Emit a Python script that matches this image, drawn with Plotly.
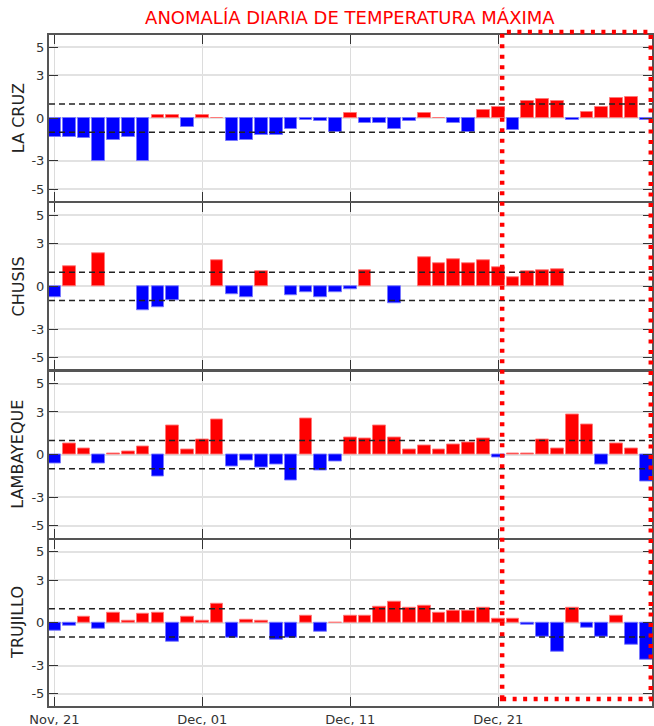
import pandas as pd
import plotly.graph_objects as go
from plotly.subplots import make_subplots

start_date = "2023-11-21"
n_days = 41
dates = list(pd.date_range(start_date, periods=n_days, freq="D"))

stations = ["LA CRUZ", "CHUSIS", "LAMBAYEQUE", "TRUJILLO"]

la_cruz = [-1.32, -1.32, -1.40, -3.02, -1.52, -1.32, -3.02, 0.23, 0.23, -0.62,
           0.23, 0.03, -1.62, -1.52, -1.18, -1.22, -0.80, -0.12, -0.23, -0.97,
           0.35, -0.35, -0.35, -0.76, -0.23, 0.35, 0.03, -0.35, -0.97, 0.55,
           0.76, -0.85, 1.18, 1.34, 1.22, -0.12, 0.42, 0.76, 1.43, 1.52, -0.12]

chusis = [-0.74, 1.41, None, 2.31, None, None, -1.71, -1.50, -0.99, None,
          None, 1.85, -0.53, -0.74, 1.04, None, -0.62, -0.44, -0.74, -0.44,
          -0.18, 1.13, None, -1.20, None, 2.03, 1.64, 1.94, 1.64, 1.85,
          1.34, 0.62, 1.04, 1.13, 1.22, None, None, None, None, None, None]

lambayeque = [-0.60, 0.76, 0.46, -0.60, 0.05, 0.25, 0.55, -1.52, 2.03, 0.35,
              1.06, 2.45, -0.81, -0.42, -0.90, -0.72, -1.80, 2.54, -1.11, -0.50,
              1.22, 1.15, 2.03, 1.22, 0.35, 0.65, 0.35, 0.74, 0.83, 1.15,
              -0.21, 0.05, 0.05, 1.06, 0.46, 2.84, 2.15, -0.72, 0.76, 0.46, -1.89]

trujillo = [-0.53, -0.23, 0.42, -0.44, 0.74, 0.14, 0.62, 0.74, -1.34, 0.42,
            0.14, 1.34, -1.04, 0.25, 0.14, -1.18, -1.04, 0.53, -0.62, 0.03,
            0.53, 0.53, 1.13, 1.52, 1.04, 1.22, 0.74, 0.83, 0.83, 1.04,
            0.32, 0.32, -0.14, -0.99, -2.00, 1.04, -0.32, -0.95, 0.53, -1.55, -2.60]

series = [la_cruz, chusis, lambayeque, trujillo]

threshold = 1.0
y_tickvals = [-5, -3, 0, 3, 5]
y_ticktext = ["-5", "-3", "0", "3", "5"]
x_tickvals = ["2023-11-21", "2023-12-01", "2023-12-11", "2023-12-21"]
x_ticktext = ["Nov, 21", "Dec, 01", "Dec, 11", "Dec, 21"]

title_text = "ANOMALÍA DIARIA DE TEMPERATURA MÁXIMA"

FONT = "DejaVu Sans"

fig = make_subplots(rows=4, cols=1, shared_xaxes=True, vertical_spacing=0.003)

bar_width_ms = 0.86 * 86400000

for i, (name, vals) in enumerate(zip(stations, series), start=1):
    colors = []
    lcolors = []
    for v in vals:
        if v is not None and v >= 0:
            colors.append("#ff0000")
            lcolors.append("rgba(255,120,120,0.9)")
        else:
            colors.append("#0000ff")
            lcolors.append("rgba(120,120,255,0.9)")
    fig.add_trace(
        go.Bar(x=dates, y=vals, marker=dict(color=colors, line=dict(color=lcolors, width=1)),
               width=bar_width_ms, showlegend=False, hoverinfo="x+y"),
        row=i, col=1,
    )
    yref = "y" if i == 1 else f"y{i}"
    ydom = "y domain" if i == 1 else f"y{i} domain"
    xdom = "x domain" if i == 1 else f"x{i} domain"
    for lvl in (threshold, -threshold):
        fig.add_shape(type="line", xref=xdom, yref=yref, x0=0, x1=1, y0=lvl, y1=lvl,
                      line=dict(color="#222222", width=1.5, dash="6px,4px"), layer="above")
    # station label as y-axis title
    fig.add_annotation(text=name, xref="paper", yref=ydom, x=-0.0514, y=0.5,
                       xanchor="center", yanchor="middle", textangle=-90, showarrow=False,
                       font=dict(family=FONT, size=16, color="#222222"))
    fig.update_yaxes(
        row=i, col=1,
        range=[-5.85, 5.85], tickvals=y_tickvals, ticktext=y_ticktext,
        ticks="inside", ticklen=9, tickcolor="#333333", tickwidth=1.2,
        showline=True, linecolor="#555555", linewidth=2, mirror="ticks",
        showgrid=True, gridcolor="#e2e2e2", gridwidth=1.5, zeroline=False,
        tickfont=dict(family=FONT, size=13, color="#333333"),
        automargin=False,
        fixedrange=True,
    )
    fig.update_xaxes(
        row=i, col=1,
        range=["2023-11-20 15:20", "2023-12-31 09:30"],
        tickvals=x_tickvals, ticktext=x_ticktext,
        ticks="inside", ticklen=9, tickcolor="#333333", tickwidth=1.2,
        showline=True, linecolor="#555555", linewidth=2, mirror="ticks",
        showgrid=True, gridcolor="#dcdcdc", gridwidth=1,
        tickfont=dict(family=FONT, size=13, color="#333333"),
        automargin=False,
        fixedrange=True,
    )

# highlighted period box
fig.add_shape(type="rect", xref="paper", yref="paper",
              x0=0.7515, x1=0.998, y0=0.0105, y1=1.0045,
              line=dict(color="#ff0000", width=4.5, dash="4px,6.5px"),
              fillcolor="rgba(0,0,0,0)", layer="above")

fig.update_layout(
    width=654, height=726,
    margin=dict(l=49, r=2, t=35, b=20, autoexpand=False),
    paper_bgcolor="white", plot_bgcolor="white",
    bargap=0,
    title=dict(text=title_text, x=0.535, xanchor="center", y=0.975, yanchor="middle",
               font=dict(family=FONT, size=18, color="#ff0000")),
    font=dict(family=FONT),
)

fig.write_html("out.html", config={"displayModeBar": False},
               post_script="document.body.style.margin='0px';")
